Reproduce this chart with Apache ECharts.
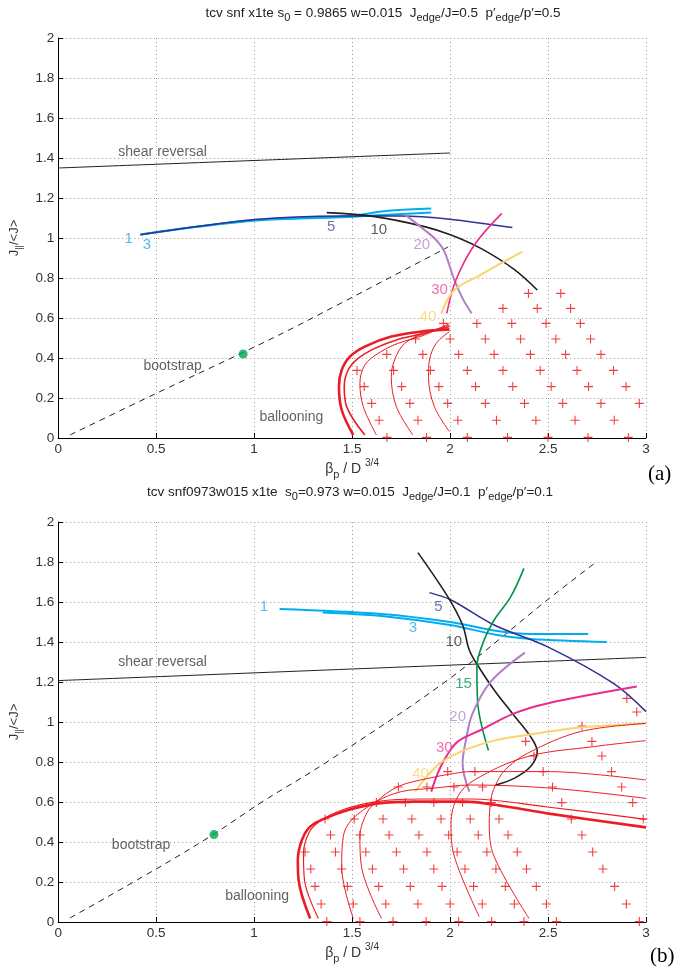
<!DOCTYPE html>
<html>
<head>
<meta charset="utf-8">
<script src="https://cdn.jsdelivr.net/npm/echarts@6/dist/echarts.min.js"></script>
<style>
  html, body { margin: 0; padding: 0; background: #fff; }
  #chart { width: 678px; height: 973px; }
</style>
</head>
<body>
<div id="chart"></div>
<script>
// ---------- panel (a) ----------
const aShear = [[0, 1.35], [2, 1.425]];
const aBoot = [[0.06, 0.015], [0.5, 0.223], [0.944, 0.428], [1.244, 0.573], [1.99, 0.955]];
const aDot = [[0.944, 0.42]];
const aC1 = [[0.42, 1.018], [1.007, 1.09], [1.447, 1.107], [1.7, 1.137], [1.904, 1.148]];
const aC3 = [[0.42, 1.018], [1.007, 1.088], [1.447, 1.104], [1.7, 1.118], [1.904, 1.127]];
const aC5 = [[0.42, 1.016], [1.007, 1.092], [1.447, 1.11], [1.751, 1.11], [2.005, 1.093], [2.318, 1.052]];
const aC10 = [[1.371, 1.127], [1.616, 1.107], [1.87, 1.057], [2.005, 1.015], [2.157, 0.948], [2.327, 0.843], [2.445, 0.74]];
const aC20 = [[1.768, 1.118], [1.87, 1.04], [1.929, 0.99], [1.971, 0.932], [2.022, 0.79], [2.064, 0.698], [2.11, 0.623]];
const aC30 = [[1.983, 0.623], [2.03, 0.79], [2.124, 0.965], [2.264, 1.123]];
const aC40 = [[1.954, 0.623], [2.022, 0.74], [2.14, 0.807], [2.259, 0.873], [2.369, 0.932]];
const aRed1 = [[1.506, 0.015], [1.447, 0.14], [1.433, 0.257], [1.447, 0.34], [1.489, 0.407], [1.565, 0.457], [1.7, 0.507], [1.853, 0.532], [1.997, 0.543]];
const aRed2 = [[1.565, 0.015], [1.472, 0.157], [1.46, 0.257], [1.48, 0.34], [1.531, 0.398], [1.616, 0.448], [1.734, 0.493], [1.87, 0.523], [1.997, 0.557]];
const aRed3 = [[1.624, 0.015], [1.557, 0.157], [1.54, 0.273], [1.565, 0.365], [1.633, 0.423], [1.734, 0.473], [1.87, 0.515], [1.997, 0.573]];
const aRed4 = [[1.81, 0.015], [1.726, 0.157], [1.7, 0.307], [1.717, 0.39], [1.768, 0.473], [1.87, 0.523], [1.997, 0.565]];
const aRed5 = [[1.997, 0.032], [1.92, 0.157], [1.89, 0.307], [1.895, 0.39], [1.929, 0.473], [1.997, 0.532]];
const aPlusY = [0.723, 0.648, 0.573, 0.495, 0.418, 0.338, 0.257, 0.173, 0.089, 0.003];
const aPlusX = [
  [2.40, 2.565],
  [2.27, 2.445, 2.615],
  [1.966, 2.137, 2.315, 2.49, 2.665],
  [1.824, 2.0, 2.18, 2.36, 2.54, 2.717],
  [1.677, 1.861, 2.044, 2.225, 2.41, 2.59, 2.77],
  [1.525, 1.712, 1.9, 2.088, 2.27, 2.46, 2.648, 2.834],
  [1.562, 1.753, 1.943, 2.13, 2.32, 2.516, 2.707, 2.898],
  [1.6, 1.795, 1.988, 2.18, 2.38, 2.575, 2.77, 2.966],
  [1.638, 1.836, 2.04, 2.237, 2.438, 2.638, 2.838],
  [1.678, 1.88, 2.088, 2.293, 2.5, 2.704, 2.91]
];
const aLabelText = ['1', '3', '5', '10', '20', '30', '40', 'shear reversal', 'bootstrap', 'ballooning'];
const aLabelPos = [[0.36, 0.995], [0.453, 0.965], [1.393, 1.057], [1.636, 1.043], [1.856, 0.965], [1.946, 0.74], [1.887, 0.607], [0.533, 1.43], [0.584, 0.36], [1.19, 0.105]];

// ---------- panel (b) ----------
const bShear = [[0, 1.207], [3, 1.323]];
const bBoot = [[0.06, 0.02], [0.5, 0.265], [0.795, 0.44], [1.04, 0.6], [1.371, 0.8], [1.988, 1.21], [2.496, 1.61], [2.733, 1.79]];
const bDot = [[0.795, 0.437]];
const bC1 = [[1.13, 1.565], [1.65, 1.54], [2.0, 1.5], [2.24, 1.455], [2.41, 1.44], [2.705, 1.44]];
const bC3 = [[1.35, 1.548], [1.65, 1.53], [2.0, 1.485], [2.24, 1.435], [2.41, 1.415], [2.8, 1.4]];
const bC5 = [[1.895, 1.647], [2.005, 1.61], [2.225, 1.485], [2.496, 1.377], [2.834, 1.193], [3.0, 1.052]];
const bC10 = [[1.836, 1.847], [1.988, 1.627], [2.064, 1.485], [2.098, 1.36], [2.14, 1.285], [2.225, 1.16], [2.318, 1.043], [2.411, 0.927], [2.445, 0.852], [2.411, 0.777], [2.327, 0.718], [2.234, 0.685]];
const bC15 = [[2.196, 0.857], [2.14, 1.11], [2.137, 1.277], [2.174, 1.41], [2.225, 1.51], [2.31, 1.627], [2.377, 1.768]];
const bC20 = [[2.382, 1.347], [2.208, 1.202], [2.115, 1.043], [2.081, 0.91], [2.064, 0.793], [2.098, 0.652]];
const bC30 = [[2.953, 1.177], [2.496, 1.093], [2.327, 1.043], [2.157, 0.96], [2.039, 0.902], [1.98, 0.827], [1.937, 0.743], [1.904, 0.652]];
const bC40 = [[3.0, 0.993], [2.665, 0.973], [2.394, 0.935], [2.225, 0.907], [2.056, 0.852], [1.937, 0.785], [1.822, 0.652]];
const bRedThick = [[1.286, 0.018], [1.227, 0.21], [1.223, 0.31], [1.244, 0.41], [1.286, 0.477], [1.362, 0.518], [1.48, 0.56], [1.633, 0.593], [1.819, 0.602], [2.073, 0.602], [2.3, 0.575], [2.496, 0.543], [3.0, 0.473]];
const bRedPair = [[1.328, 0.018], [1.257, 0.21], [1.252, 0.343], [1.278, 0.443], [1.33, 0.5], [1.45, 0.56], [1.633, 0.603], [1.85, 0.615], [2.107, 0.615], [2.496, 0.575], [3.0, 0.513]];
const bRedA = [[1.65, 0.018], [1.548, 0.277], [1.54, 0.427], [1.574, 0.543], [1.624, 0.602], [1.734, 0.677], [1.887, 0.718], [2.022, 0.743], [2.107, 0.752], [2.496, 0.752], [3.0, 0.71]];
const bRedB = [[1.506, 0.018], [1.447, 0.277], [1.455, 0.427], [1.497, 0.51], [1.624, 0.602], [1.751, 0.652], [1.904, 0.668], [2.107, 0.685], [2.53, 0.668], [3.0, 0.618]];
const bRedC = [[2.149, 0.027], [2.022, 0.327], [2.005, 0.493], [2.039, 0.627], [2.124, 0.71], [2.394, 0.827], [2.733, 0.877], [3.0, 0.907]];
const bRedD = [[2.403, 0.018], [2.225, 0.327], [2.2, 0.493], [2.208, 0.61], [2.23, 0.68], [2.28, 0.76], [2.394, 0.843], [2.665, 0.952], [3.0, 0.993]];
const bPlusY = [1.118, 1.05, 0.98, 0.903, 0.83, 0.752, 0.675, 0.597, 0.515, 0.435, 0.35, 0.265, 0.178, 0.09, 0.002];
const bPlusX = [
  [2.902],
  [2.953],
  [2.673],
  [2.386, 2.724],
  [2.428, 2.775],
  [1.988, 2.127, 2.475, 2.824],
  [1.736, 1.882, 2.02, 2.166, 2.523, 2.876],
  [1.624, 1.772, 1.917, 2.064, 2.21, 2.57, 2.932],
  [1.362, 1.511, 1.658, 1.805, 1.954, 2.103, 2.25, 2.619, 2.986],
  [1.39, 1.54, 1.689, 1.841, 1.993, 2.144, 2.296, 2.673],
  [1.26, 1.415, 1.57, 1.726, 1.882, 2.036, 2.188, 2.343, 2.728],
  [1.289, 1.447, 1.604, 1.763, 1.917, 2.076, 2.234, 2.39, 2.78],
  [1.311, 1.476, 1.636, 1.797, 1.959, 2.12, 2.282, 2.44, 2.84],
  [1.342, 1.506, 1.672, 1.836, 2.0, 2.164, 2.328, 2.492, 2.9],
  [1.371, 1.54, 1.709, 1.878, 2.044, 2.212, 2.377, 2.543, 2.966]
];
const bLabelText = ['1', '3', '5', '10', '15', '20', '30', '40', 'shear reversal', 'bootstrap', 'ballooning'];
const bLabelPos = [[1.05, 1.575], [1.81, 1.473], [1.94, 1.577], [2.019, 1.402], [2.069, 1.193], [2.039, 1.027], [1.971, 0.873], [1.849, 0.743], [0.533, 1.3], [0.423, 0.385], [1.015, 0.127]];

// colours
const CYAN = '#00aeef', NAVY = '#2e3192', BLACK = '#231f20', PURPLE = '#b07fc4',
      PINK = '#ec2a8e', YELLOW = '#f9d46d', GREEN = '#009247', RED = '#ed1c24';
const labelColor = {
  '1': '#29abe2', '3': '#29abe2', '5': '#4b4ba3', '10': '#333', '15': '#0d9a4e',
  '20': '#b48ccb', '30': '#ee4b9b', '40': '#f9d46d'
};
const FONT = '"Liberation Sans", Arial, sans-serif';
const PLUS = 'path://M4.4,0h1.2v4.4h4.4v1.2h-4.4v4.4h-1.2v-4.4h-4.4v-1.2h4.4z';

function line(data, color, width, gi, dashed) {
  return {
    type: 'line', data: data, xAxisIndex: gi, yAxisIndex: gi,
    showSymbol: false, smooth: 0.35, silent: true,
    lineStyle: { color: color, width: width, type: dashed ? [6, 5] : 'solid' },
    z: 3
  };
}

function plusSeries(ys, xs, gi) {
  const pts = [];
  ys.forEach((y, i) => xs[i].forEach(x => pts.push([x, y])));
  return {
    type: 'scatter', data: pts, xAxisIndex: gi, yAxisIndex: gi,
    symbol: PLUS, symbolSize: 9, itemStyle: { color: RED, opacity: 0.85 }, z: 2, silent: true
  };
}

function labelSeries(texts, pos, gi) {
  return {
    type: 'scatter', xAxisIndex: gi, yAxisIndex: gi, symbolSize: 1, silent: true,
    itemStyle: { color: 'rgba(0,0,0,0)' }, z: 6,
    data: texts.map((t, i) => ({
      value: pos[i], name: t,
      label: { color: labelColor[t] || '#3a3a3a', fontSize: t.length > 2 ? 14 : 15 }
    })),
    label: {
      show: true, position: 'inside', formatter: '{b}', fontFamily: FONT,
      align: 'center', verticalAlign: 'middle'
    }
  };
}

function dotSeries(data, gi) {
  return {
    type: 'scatter', data: data, xAxisIndex: gi, yAxisIndex: gi,
    symbolSize: 9, itemStyle: { color: '#00a651' }, z: 5, silent: true
  };
}

const gridLine = { show: true, lineStyle: { color: '#999', width: 1, type: [1, 3] } };
function xAx(gi) {
  return {
    type: 'value', gridIndex: gi, min: 0, max: 3, interval: 0.5,
    name: '{n|β}{s|p}{n| / D }{u|3/4}', nameLocation: 'middle', nameGap: 20,
    nameTextStyle: {
      rich: {
        n: { fontSize: 14, fontFamily: FONT, color: '#333', lineHeight: 22, verticalAlign: 'middle' },
        s: { fontSize: 11, fontFamily: FONT, color: '#333', lineHeight: 10, verticalAlign: 'bottom' },
        u: { fontSize: 10, fontFamily: FONT, color: '#333', lineHeight: 10, verticalAlign: 'top' }
      }
    },
    axisLine: { onZero: false, lineStyle: { color: '#000', width: 1 } },
    axisTick: { inside: true, length: 5, lineStyle: { color: '#000' } },
    axisLabel: { fontSize: 13.5, color: '#333', fontFamily: FONT, margin: 4 },
    splitLine: gridLine
  };
}
function yAx(gi) {
  return {
    type: 'value', gridIndex: gi, min: 0, max: 2, interval: 0.2,
    name: '{n|J}{s|||}{n|/<J>}', nameLocation: 'middle', nameGap: 33, nameRotate: 90,
    nameTextStyle: {
      rich: {
        n: { fontSize: 13, fontFamily: FONT, color: '#333', lineHeight: 20, verticalAlign: 'middle' },
        s: { fontSize: 9, fontFamily: FONT, color: '#333', lineHeight: 10, verticalAlign: 'bottom' }
      }
    },
    axisLine: { onZero: false, lineStyle: { color: '#000', width: 1 } },
    axisTick: { inside: true, length: 5, lineStyle: { color: '#000' } },
    axisLabel: { fontSize: 13.5, color: '#333', fontFamily: FONT, margin: 4, formatter: v => String(+v.toFixed(1)) },
    splitLine: gridLine
  };
}

const TFONT = '"Liberation Sans Narrow", "Liberation Sans", sans-serif';
const titleRich = {
  n: { fontSize: 13.5, fontFamily: TFONT, fill: '#222', lineHeight: 20, verticalAlign: 'middle' },
  s: { fontSize: 11, fontFamily: TFONT, fill: '#222', lineHeight: 10, verticalAlign: 'bottom' }
};

const series = [
  // panel a
  line(aShear, BLACK, 1, 0),
  line(aBoot, BLACK, 1, 0, true),
  line(aC1, CYAN, 2, 0), line(aC3, CYAN, 2, 0), line(aC5, NAVY, 1.5, 0),
  line(aC10, BLACK, 1.6, 0), line(aC20, PURPLE, 2, 0), line(aC30, PINK, 1.6, 0), line(aC40, YELLOW, 2, 0),
  line(aRed1, RED, 2.6, 0), line(aRed2, RED, 1.6, 0), line(aRed3, RED, 1, 0), line(aRed4, RED, 1, 0), line(aRed5, RED, 1, 0),
  plusSeries(aPlusY, aPlusX, 0),
  dotSeries(aDot, 0),
  labelSeries(aLabelText, aLabelPos, 0),
  // panel b
  line(bShear, BLACK, 1, 1),
  line(bBoot, BLACK, 1, 1, true),
  line(bC1, CYAN, 2, 1), line(bC3, CYAN, 2, 1), line(bC5, NAVY, 1.5, 1),
  line(bC10, BLACK, 1.6, 1), line(bC15, GREEN, 1.6, 1), line(bC20, PURPLE, 2, 1),
  line(bC30, PINK, 2, 1), line(bC40, YELLOW, 2, 1),
  line(bRedThick, RED, 2.6, 1), line(bRedPair, RED, 1.2, 1),
  line(bRedA, RED, 1, 1), line(bRedB, RED, 1, 1), line(bRedC, RED, 1, 1), line(bRedD, RED, 1, 1),
  plusSeries(bPlusY, bPlusX, 1),
  dotSeries(bDot, 1),
  labelSeries(bLabelText, bLabelPos, 1)
];

const chart = echarts.init(document.getElementById('chart'), null, { renderer: 'canvas' });
chart.setOption({
  animation: false,
  backgroundColor: '#fff',
  grid: [
    { left: 55, top: 38, width: 591, height: 400 },
    { left: 55, top: 522, width: 591, height: 400 }
  ],
  xAxis: [xAx(0), xAx(1)],
  yAxis: [yAx(0), yAx(1)],
  graphic: [
    {
      type: 'text', x: 383, y: 13,
      style: {
        text: '{n|tcv snf x1te s}{s|0}{n| = 0.9865 w=0.015  J}{s|edge}{n|/J=0.5  p′}{s|edge}{n|/p′=0.5}',
        rich: titleRich, align: 'center', verticalAlign: 'middle'
      }
    },
    {
      type: 'text', x: 350, y: 492,
      style: {
        text: '{n|tcv snf0973w015 x1te  s}{s|0}{n|=0.973 w=0.015  J}{s|edge}{n|/J=0.1  p′}{s|edge}{n|/p′=0.1}',
        rich: titleRich, align: 'center', verticalAlign: 'middle'
      }
    },
    { type: 'text', x: 648, y: 464, style: { text: '(a)', font: '21px "Liberation Serif", serif', fill: '#000' } },
    { type: 'text', x: 650, y: 946, style: { text: '(b)', font: '21px "Liberation Serif", serif', fill: '#000' } }
  ],
  series: series
});
</script>
</body>
</html>
